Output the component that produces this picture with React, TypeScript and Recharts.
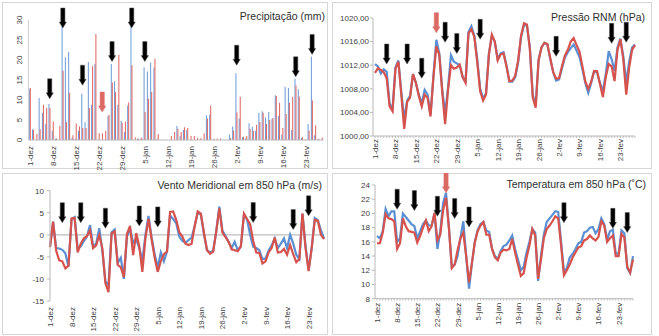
import React from 'react';
import { BarChart, Bar, LineChart, Line, XAxis, YAxis, ReferenceDot, ReferenceLine } from 'recharts';

// one category per day, 1-dez .. 28-fev
const monthDays: [string, number][] = [['dez', 31], ['jan', 31], ['fev', 28]];
const days: string[] = monthDays.flatMap(([m, n]) => Array.from({ length: n }, (_, i) => `${i + 1}-${m}`));
const shownTicks = ['1-dez', '8-dez', '15-dez', '22-dez', '29-dez', '5-jan', '12-jan', '19-jan', '26-jan', '2-fev', '9-fev', '16-fev', '23-fev'];

const precipBlue = [12.8, 2.7, 0, 10.5, 6.8, 4, 9, 2.3, 0.4, 0, 28.5, 20.7, 22, 0.5, 0.3, 2.3, 11.6, 4.5, 19.5, 8.8,
  19, 0, 0, 0, 6, 19, 14.7, 8.8, 4.8, 2, 8.6, 28.5, 0, 0.3, 0.3, 18.2, 17.1, 19.4, 18.1, 0.3,
  0, 0, 0, 0, 0, 3.5, 1, 2.5, 2.5, 0, 0, 0, 0, 0, 6.2, 6.3, 0, 0, 0, 0,
  0, 1.4, 3.4, 16.7, 5.4, 0.7, 0.5, 4.2, 3.3, 2.3, 6.8, 7.2, 5.6, 7, 5.3, 11.2, 6, 1.4, 13.3, 13,
  2.5, 15.3, 12.7, 0.5, 0, 4, 20.8, 1.2, 0.2, 0];
const precipRed = [13, 2.5, 1.5, 2.7, 8.8, 8, 8, 4.7, 0.4, 3.5, 17.3, 4.5, 11.8, 1.2, 4.1, 3.4, 3, 3, 8, 18.5,
  26.5, 1.7, 1.7, 2.3, 6.3, 14.4, 12, 21.3, 4.3, 4.6, 9.4, 18.7, 0.7, 0.3, 0.6, 7, 10.3, 12, 20.3, 1.5,
  0, 0, 0, 1, 2, 2.8, 2, 3.2, 3, 1, 1, 0.5, 0.5, 1.7, 5.4, 8.6, 0.3, 0.4, 0.4, 0,
  0, 0.5, 2.4, 6.9, 10.8, 0.8, 1, 2.8, 2.3, 3.8, 4.5, 6.8, 4, 5, 5.5, 11, 9.3, 3, 6.5, 9.3,
  10.8, 13.6, 10.9, 0.7, 0.2, 2.3, 9.9, 3.7, 0.3, 0.6];

const pressBlue = [1012.2, 1011.8, 1010.6, 1011.3, 1010.9, 1005.5, 1004.5, 1011.6, 1012.8, 1007.5,
  1002.8, 1006.0, 1006.8, 1010.5, 1009.0, 1007.0, 1005.5, 1007.8, 1007.0, 1003.6,
  1010.2, 1016.3, 1014.0, 1008.0, 1003.8, 1008.2, 1013.7, 1012.6, 1012.3, 1012.0,
  1010.0, 1009.3, 1017.6, 1018.6, 1017.0, 1013.0, 1008.0, 1006.4, 1007.2, 1014.0,
  1017.0, 1016.0, 1013.0, 1014.0, 1014.2, 1012.0, 1009.2, 1009.2, 1010.0, 1012.5,
  1016.8, 1018.8, 1018.8, 1015.0, 1007.0, 1005.2, 1013.0, 1015.0, 1015.8, 1015.5,
  1013.0, 1010.8, 1009.4, 1009.6, 1011.5, 1013.3, 1014.2, 1014.9, 1015.5, 1014.5,
  1013.4, 1011.3, 1009.0, 1007.3, 1009.0, 1011.0, 1010.8, 1009.0, 1007.6, 1010.5,
  1014.4, 1013.0, 1011.0, 1015.0, 1016.5, 1013.5, 1009.0, 1012.6, 1015.0, 1015.5];
const pressRed = [1010.7, 1011.5, 1011.2, 1010.8, 1009.8, 1005.0, 1004.2, 1011.4, 1012.6, 1007.0,
  1001.2, 1005.8, 1006.5, 1010.5, 1009.0, 1006.8, 1005.0, 1007.0, 1006.5, 1003.3,
  1010.0, 1015.2, 1013.8, 1007.5, 1002.0, 1007.8, 1012.0, 1011.4, 1011.6, 1012.1,
  1010.0, 1009.0, 1017.4, 1018.1, 1016.8, 1012.5, 1007.6, 1006.0, 1007.0, 1013.8,
  1017.2, 1016.0, 1012.8, 1013.8, 1014.0, 1011.8, 1009.3, 1009.4, 1010.2, 1012.8,
  1017.0, 1019.1, 1018.9, 1014.8, 1006.5, 1004.8, 1012.8, 1015.0, 1015.8, 1015.6,
  1013.2, 1010.8, 1009.7, 1009.8, 1011.8, 1013.6, 1014.6, 1016.0, 1016.6, 1015.4,
  1014.3, 1011.8, 1009.2, 1008.0, 1009.2, 1011.0, 1011.0, 1008.8, 1006.6, 1010.0,
  1012.2, 1011.8, 1009.3, 1014.6, 1016.4, 1013.0, 1007.0, 1011.6, 1014.6, 1015.4];

const windBlue = [-2.8, 3.0, -3.0, -3.1, -3.4, -4.2, -7.2, 3.6, 4.0, -3.2,
  -2.6, -1.4, -0.4, 2.2, -2.6, -2.0, 1.5, -3.6, -10.6, -11.4,
  0.6, 1.2, -6.4, -5.2, -10.0, -0.4, 1.4, -1.8, -1.0, -3.0,
  -5.8, 0.0, 4.3, -0.6, -4.4, -7.4, -4.0, -6.0, -3.8, 4.4,
  3.6, 2.6, -0.4, -1.4, -1.8, -1.2, -0.6, 2.0, 5.0, 4.6,
  0.2, -3.5, -4.0, -3.6, 0.8, 6.4, 1.0, -0.3, -1.6, -3.0,
  -1.6, -3.5, -2.6, 4.5, 3.5, 0.0, -2.7, -3.0, -3.5, -5.5,
  -5.4, -3.6, -2.4, -0.8, -3.0, -2.0, -0.8, -3.0, 0.0, -2.0,
  -4.5, -5.5, 4.8, -2.5, -8.0, -3.0, 3.8, 3.3, 1.0, -0.8];
const windRed = [-2.8, 3.0, -3.6, -5.8, -6.0, -7.6, -7.0, 3.7, 3.8, -4.0,
  -2.0, -0.8, -0.3, 1.0, -3.0, -2.4, -0.1, -3.0, -11.0, -13.0,
  0.3, 0.8, -6.8, -7.4, -9.6, 0.2, 2.0, -4.6, 0.4, -2.6,
  -8.4, -0.8, 3.6, -1.0, -5.2, -8.4, -6.0, -4.4, -3.8, 5.2,
  5.3, 3.4, 0.6, -0.4, -2.0, -2.3, -2.0, 2.0, 5.3, 4.8,
  0.5, -3.5, -4.3, -3.8, 0.8, 6.0, 0.5, -0.5, -1.6, -3.3,
  -3.5, -3.7, -2.6, 4.8, 3.6, 2.4, -1.4, -4.0, -4.1, -6.5,
  -6.0, -4.0, -3.0, -0.6, -4.0, -3.9, -3.2, -4.5, -2.3, -4.4,
  -6.2, -5.5, 4.8, -3.0, -8.2, -3.0, 3.4, 3.2, 0.0, -1.0];

const tempBlue = [16.8, 16.5, 17.5, 20.6, 19.6, 20.3, 20.3, 16.0, 16.5, 20.0,
  19.5, 19.0, 18.5, 18.2, 16.5, 17.5, 18.5, 19.0, 18.3, 18.3,
  20.0, 15.0, 17.5, 21.5, 22.9, 18.0, 12.5, 12.8, 14.0, 16.5,
  18.9, 14.0, 9.4, 13.0, 16.0, 17.7, 18.5, 18.8, 17.6, 17.4,
  15.0, 14.0, 13.6, 14.7, 15.4, 15.6, 16.2, 16.9, 15.0, 13.5,
  12.0, 12.5, 14.5, 16.0, 17.8, 17.3, 10.5, 14.0, 17.0, 18.8,
  19.3, 19.8, 20.3, 20.2, 16.0, 11.7, 12.3, 13.8, 14.3, 15.0,
  15.8, 16.0, 17.3, 17.5, 18.0, 18.1, 17.2, 17.8, 19.3, 18.5,
  16.3, 17.5, 17.7, 14.4, 14.3, 17.6, 17.2, 12.3, 11.6, 14.0];
const tempRed = [15.8, 15.8, 17.3, 19.9, 19.3, 19.2, 18.9, 15.0, 15.8, 19.3,
  18.2, 17.5, 17.4, 17.3, 15.9, 16.8, 18.0, 19.0, 17.5, 18.2,
  20.1, 16.2, 17.0, 20.5, 22.2, 18.0, 12.3, 12.8, 14.8, 16.5,
  17.3, 14.0, 10.3, 13.0, 15.9, 17.5, 18.3, 18.8, 17.0, 17.0,
  15.0, 13.8, 13.4, 14.5, 14.9, 14.8, 15.0, 16.4, 14.5, 12.8,
  11.2, 11.6, 13.8, 15.5, 17.8, 16.9, 10.8, 13.5, 16.5, 17.8,
  18.3, 18.9, 19.6, 19.3, 15.5, 11.3, 12.0, 12.8, 13.8, 14.5,
  15.2, 15.4, 16.2, 16.4, 16.9, 16.5, 16.2, 16.7, 18.9, 18.3,
  16.0, 16.5, 16.9, 14.0, 14.0, 17.1, 16.6, 12.5, 11.7, 13.5];

// arrow annotations: day index + value at the arrow tip
const precipArrows = [[6, 10.3], [10, 28], [16, 13.7], [25, 19.6], [31, 28], [35, 19.6], [63, 18.7], [81, 15.8], [86, 21.4]];
const precipRedArrows = [[22, 7]];
const pressArrows = [[4, 1012.2], [11, 1012.2], [16, 1009.8], [24, 1015.9], [28, 1014], [36, 1016.4], [62, 1013.5], [81, 1015.7], [86, 1015.9]];
const pressRedArrows = [[21, 1017.5]];
const windArrows = [[4, 2.75], [10, 2.75], [18, 1.5], [29, 2.0], [35, 1.8], [66, 2.8], [79, 1.2], [84, 4.3]];
const tempArrows = [[7, 20.6], [13, 20.4], [21, 19.6], [27, 19.3], [32, 18.1], [65, 18.7], [82, 17.9], [87, 17.3]];
const tempRedArrows = [[24, 22.9]];

const BLUE = '#5a8fd3';
const RED = '#d6524d';
const ARROW_RED = '#dc6a64';
const AXIS = '#b8b8b8';
const TXT = '#404040';

const rows = (blue: number[], red: number[]) => days.map((day, i) => ({ day, blue: blue[i], red: red[i] }));

const arrowShape = (color: string) => (props: any) => {
  const { cx, cy } = props;
  if (cx == null || cy == null) return <g />;
  const pts = [[cx, cy], [cx - 3.6, cy - 6], [cx - 2.1, cy - 6], [cx - 2.1, cy - 20], [cx + 2.1, cy - 20], [cx + 2.1, cy - 6], [cx + 3.6, cy - 6]];
  return <polygon points={pts.map(p => p.join(',')).join(' ')} fill={color} stroke={color === '#000' ? '#555' : color} strokeWidth={0.5} />;
};

const arrows = (list: number[][], color: string, prefix: string) =>
  list.map(([d, v], i) => (
    <ReferenceDot key={`${prefix}${i}`} x={days[d]} y={v} r={1} ifOverflow="visible" shape={arrowShape(color)} />
  ));

const DateTick = ({ x, y, payload, gap, marks }: any) => {
  const show = shownTicks.includes(payload.value);
  return (
    <g>
      {marks && <line x1={x} x2={x} y1={y} y2={y + 2} stroke={AXIS} strokeWidth={0.8} />}
      {show && (
        <text transform={`translate(${x},${y + gap}) rotate(-90)`} textAnchor="end" dy={3} fontSize={8} fill={TXT}>
          {payload.value}
        </text>
      )}
    </g>
  );
};

const RotYTick = ({ x, y, payload }: any) => (
  <text transform={`translate(${x - 9},${y}) rotate(-90)`} textAnchor="middle" dy={3} fontSize={8} fill={TXT}>
    {payload.value}
  </text>
);

const panelStyle = (left: number, top: number, width: number, height: number): React.CSSProperties => ({
  position: 'absolute', left, top, width, height, boxSizing: 'border-box', border: '1px solid #d6d6d6',
});

const Title = ({ right, top, text }: { right: number; top: number; text: string }) => (
  <div style={{ position: 'absolute', right: 659 - right, top: top - 7, fontSize: 10.5, lineHeight: '14px', color: '#303030', whiteSpace: 'nowrap' }}>
    {text}
  </div>
);

export default function App() {
  const precipData = rows(precipBlue, precipRed);
  const pressData = rows(pressBlue, pressRed);
  const windData = rows(windBlue, windRed);
  const tempData = rows(tempBlue, tempRed);

  return (
    <div style={{ position: 'absolute', left: 0, top: 0, width: 659, height: 336, background: '#fff', fontFamily: '"Liberation Sans", Arial, sans-serif' }}>
      <div style={panelStyle(2, 2, 326, 167)} />
      <div style={panelStyle(332, 2, 320, 167)} />
      <div style={panelStyle(2, 173, 326, 162)} />
      <div style={panelStyle(332, 173, 320, 162)} />

      <div style={{ position: 'absolute', left: 2, top: 2 }}>
        <BarChart width={326} height={172} data={precipData} margin={{ top: 18, right: 4.4, bottom: 10, left: 6.4 }} barCategoryGap="12%" barGap={0}>
          <XAxis dataKey="day" interval={0} height={24} tickSize={0} tickMargin={0} stroke={AXIS}
            tick={(p: any) => <DateTick {...p} gap={6} marks={false} />} />
          <YAxis width={20} domain={[0, 30]} ticks={[0, 5, 10, 15, 20, 25, 30]} interval={0} tickSize={0} tickMargin={0}
            stroke="#d0d0d0" tick={(p: any) => <RotYTick {...p} />} />
          <Bar dataKey="blue" fill="#6a9ad6" isAnimationActive={false} />
          <Bar dataKey="red" fill="#e0625d" isAnimationActive={false} />
          {arrows(precipArrows, '#000', 'pa')}
          {arrows(precipRedArrows, ARROW_RED, 'pr')}
        </BarChart>
      </div>

      <div style={{ position: 'absolute', left: 332, top: 2 }}>
        <LineChart width={320} height={167} data={pressData} margin={{ top: 16, right: 17, bottom: 5, left: 4 }}>
          <XAxis dataKey="day" interval={0} height={28} tickSize={0} tickMargin={0} stroke={AXIS} padding={{ left: 2, right: 0 }}
            tick={(p: any) => <DateTick {...p} gap={3} marks />} />
          <YAxis width={37} domain={[1000, 1020]} ticks={[1000, 1004, 1008, 1012, 1016, 1020]} interval={0} tickSize={3} tickMargin={1}
            stroke={AXIS} tick={{ fontSize: 8, fill: TXT }} tickFormatter={(v: number) => v.toFixed(2).replace('.', ',')} />
          <Line dataKey="blue" stroke={BLUE} strokeWidth={2.2} dot={false} isAnimationActive={false} />
          <Line dataKey="red" stroke={RED} strokeWidth={2.2} dot={false} isAnimationActive={false} />
          {arrows(pressArrows, '#000', 'ka')}
          {arrows(pressRedArrows, ARROW_RED, 'kr')}
        </LineChart>
      </div>

      <div style={{ position: 'absolute', left: 2, top: 173 }}>
        <LineChart width={326} height={162} data={windData} margin={{ top: 17.7, right: 4, bottom: 5, left: 18 }}>
          <XAxis dataKey="day" interval={0} height={29} tickSize={0} tickMargin={0} axisLine={false}
            tick={(p: any) => <DateTick {...p} gap={6} marks={false} />} />
          <YAxis width={30} domain={[-15, 10]} ticks={[-15, -10, -5, 0, 5, 10]} interval={0} tickSize={3} tickMargin={3}
            stroke={AXIS} tick={{ fontSize: 8, fill: TXT }} />
          <ReferenceLine y={0} stroke="#bdbdbd" strokeWidth={1.2} />
          <Line dataKey="blue" stroke={BLUE} strokeWidth={2.2} dot={false} isAnimationActive={false} />
          <Line dataKey="red" stroke={RED} strokeWidth={2.2} dot={false} isAnimationActive={false} />
          {arrows(windArrows, '#000', 'wa')}
        </LineChart>
      </div>

      <div style={{ position: 'absolute', left: 332, top: 173 }}>
        <LineChart width={320} height={162} data={tempData} margin={{ top: 12, right: 19, bottom: 5.3, left: 12 }}>
          <XAxis dataKey="day" interval={0} height={31} tickSize={0} tickMargin={0} stroke={AXIS} padding={{ left: 2, right: 0 }}
            tick={(p: any) => <DateTick {...p} gap={4} marks />} />
          <YAxis width={31} domain={[8, 24]} ticks={[8, 10, 12, 14, 16, 18, 20, 22, 24]} interval={0} tickSize={3} tickMargin={2}
            stroke={AXIS} tick={{ fontSize: 8, fill: TXT }} />
          <Line dataKey="blue" stroke={BLUE} strokeWidth={2.2} dot={false} isAnimationActive={false} />
          <Line dataKey="red" stroke={RED} strokeWidth={2.2} dot={false} isAnimationActive={false} />
          {arrows(tempArrows, '#000', 'ta')}
          {arrows(tempRedArrows, ARROW_RED, 'tr')}
        </LineChart>
      </div>

      <Title right={325} top={16} text="Precipitação (mm)" />
      <Title right={645} top={17} text="Pressão RNM (hPa)" />
      <Title right={322} top={185} text="Vento Meridional em 850 hPa (m/s)" />
      <Title right={646} top={184} text="Temperatura em 850 hPa (˚C)" />
    </div>
  );
}
